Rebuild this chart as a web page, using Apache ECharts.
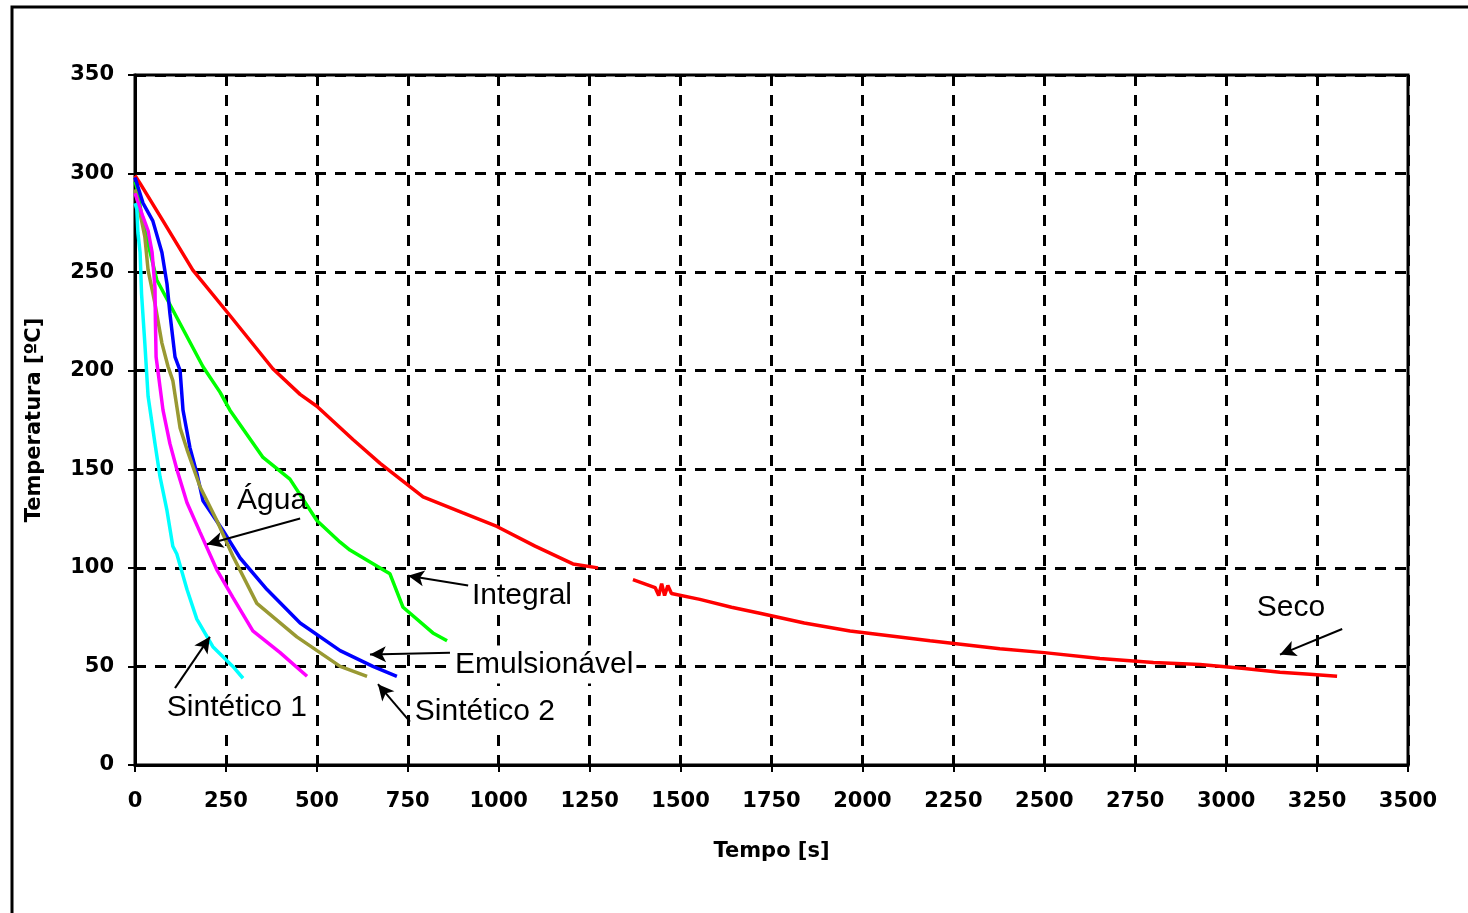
<!DOCTYPE html>
<html><head><meta charset="utf-8">
<script src="https://cdn.jsdelivr.net/npm/echarts@6/dist/echarts.min.js"></script>
<style>html,body{margin:0;padding:0;background:#fff}#c{width:1468px;height:913px}</style>
</head><body><div id="c"></div>
<script>
// Data: [tempo (s), temperatura (°C)]
const seco = [[0,299],[14,295],[77,276],[159,251],[261,228],[379,201],[454,188],[500,182],[600,165],[674,153],[792,136],[900,128],[995,121],[1100,111],[1204,102],[1273,100],[1320,null],[1369,94],[1430,90],[1440,86],[1448,92],[1456,86],[1465,91],[1475,87],[1553,84],[1640,80],[1718,77],[1840,72],[1966,68],[2186,63],[2378,59],[2500,57],[2653,54],[2800,52],[2928,51],[3050,49],[3148,47],[3230,46],[3305,45]];
const integral = [[0,296],[5,293],[22,275],[60,246],[115,227],[187,202],[234,189],[261,180],[352,156],[426,145],[500,124],[564,113],[591,109],[682,99],[701,97],[737,80],[819,67],[858,63]];
const emulsionavel = [[0,298],[22,285],[49,276],[74,260],[88,244],[96,229],[110,207],[124,200],[132,180],[151,161],[170,148],[187,134],[242,119],[289,105],[363,89],[454,72],[564,58],[654,50],[720,45]];
const sintetico2 = [[0,292],[5,288],[27,268],[36,251],[55,234],[74,214],[91,202],[104,195],[124,171],[143,160],[179,141],[225,124],[269,106],[335,82],[445,65],[564,50],[638,45]];
const agua = [[0,290],[22,278],[36,271],[47,260],[55,242],[56,226],[58,207],[63,200],[77,180],[96,163],[115,150],[143,133],[179,118],[225,99],[269,85],[324,68],[399,57],[473,45]];
const sintetico1 = [[0,285],[5,282],[8,270],[14,260],[18,239],[27,214],[36,187],[55,163],[69,146],[88,129],[104,111],[115,107],[143,89],[170,74],[214,60],[269,50],[297,44]];
const xTicks = [0,3500,250];
const yTicks = [0,350,50];
// Annotations: label, text anchor [t,T], arrow tail [t,T], arrow tip [t,T]
const annotations = [
  {name:'Água', text:[377,134], tail:[454,125], tip:[198,112], box:false},
  {name:'Integral', text:[1064,86], tail:[916,91], tip:[751,96], box:true},
  {name:'Emulsionável', text:[1125,51], tail:[866,57], tip:[646,56], box:true},
  {name:'Sintético 2', text:[962,27], tail:[756,22], tip:[668,41], box:true},
  {name:'Sintético 1', text:[280,29], tail:[110,39], tip:[206,65], box:true},
  {name:'Seco', text:[3178,80], tail:[3319,69], tip:[3148,56], box:true}
];

const chart = echarts.init(document.getElementById('c'));
const lineS = (name, data, color) => ({
  name, type:'line', data, symbol:'none', animation:false,
  lineStyle:{color, width:3.5}, itemStyle:{color}, z:3
});
const arrowLines = annotations.map(a => [{coord:a.tail},{coord:a.tip}]);
const series = [
  lineS('Seco', seco, '#ff0000'),
  lineS('Integral', integral, '#00ff00'),
  lineS('Emulsionável', emulsionavel, '#0000ff'),
  lineS('Sintético 2', sintetico2, '#999933'),
  lineS('Água', agua, '#ff00ff'),
  lineS('Sintético 1', sintetico1, '#00ffff'),
  {
    type:'scatter', data:[], z:5, animation:false,
    markLine:{
      silent:true, animation:false, symbol:['none','arrow'], symbolSize:[12,16],
      lineStyle:{color:'#000', width:2, type:'solid'}, label:{show:false},
      data: arrowLines
    },
    markPoint:{
      silent:true, animation:false, symbol:'circle', symbolSize:1,
      itemStyle:{color:'rgba(0,0,0,0)'},
      label:{show:true, color:'#000', fontSize:30, fontFamily:'Liberation Sans', formatter:p=>p.name},
      data: annotations.map(a => ({name:a.name, coord:a.text,
        label: a.box ? {backgroundColor:'#fff', padding:[4,3]} : {}}))
    }
  }
];
chart.setOption({
  backgroundColor:'#fff',
  animation:false,
  grid:{left:135, top:75, right:60, bottom:148, show:true, borderColor:'#000', borderWidth:3},
  xAxis:{
    type:'value', min:xTicks[0], max:xTicks[1], interval:xTicks[2],
    name:'Tempo [s]', nameLocation:'middle', nameGap:76,
    nameTextStyle:{fontFamily:'DejaVu Sans', fontWeight:'bold', fontSize:21, color:'#000'},
    axisLine:{lineStyle:{color:'#000', width:3}},
    axisTick:{show:true, length:7, lineStyle:{color:'#000', width:2}},
    axisLabel:{fontFamily:'DejaVu Sans', fontWeight:'bold', fontSize:21, color:'#000', margin:26, formatter:v=>String(v)},
    splitLine:{show:true, lineStyle:{color:'#000', width:3, type:[11,9]}}
  },
  yAxis:{
    type:'value', min:yTicks[0], max:yTicks[1], interval:yTicks[2],
    name:'Temperatura [ºC]', nameLocation:'middle', nameGap:90, nameRotate:90,
    nameTextStyle:{fontFamily:'DejaVu Sans', fontWeight:'bold', fontSize:21, color:'#000'},
    axisLine:{lineStyle:{color:'#000', width:3}},
    axisTick:{show:true, length:7, lineStyle:{color:'#000', width:2}},
    axisLabel:{fontFamily:'DejaVu Sans', fontWeight:'bold', fontSize:21, color:'#000', margin:21, formatter:v=>String(v)},
    splitLine:{show:true, lineStyle:{color:'#000', width:3, type:[11,9]}}
  },
  graphic:[{type:'rect', silent:true, z:-1, shape:{x:12, y:7, width:1500, height:1000},
    style:{fill:'none', stroke:'#000', lineWidth:3}}],
  series
});
</script></body></html>
